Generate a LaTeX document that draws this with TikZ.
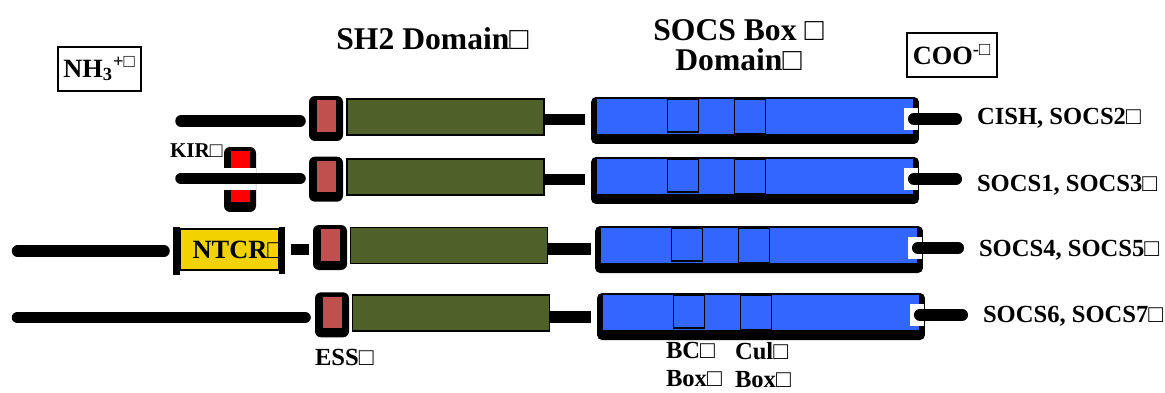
\documentclass[tikz,border=0pt]{standalone}
\usepackage{fontspec}
\setmainfont{Liberation Serif}
\usetikzlibrary{calc,positioning}

\definecolor{essred}{RGB}{192,80,77}
\definecolor{sh2green}{RGB}{79,97,40}
\definecolor{socsblue}{RGB}{51,102,255}
\definecolor{kirred}{RGB}{255,0,0}
\definecolor{ntcryellow}{RGB}{242,210,0}

\begin{document}
\begin{tikzpicture}[x=0.02cm, y=-0.02cm,
  every node/.style={inner sep=0pt, outer sep=0pt, font=\bfseries},
  domtitle/.style={font=\bfseries\fontsize{18}{17}\selectfont},
  lbl/.style={font=\bfseries\fontsize{14}{16}\selectfont, anchor=base west},
  endbox/.style={draw, line width=0.8pt, minimum height=0.88cm, font=\bfseries\fontsize{15}{17}\selectfont},
  essout/.style={fill=black, rounded corners=0.12cm, minimum width=0.68cm, minimum height=0.9cm},
  essin/.style={fill=essred, minimum width=0.38cm, minimum height=0.63cm},
  kirout/.style={fill=black, rounded corners=0.12cm, minimum width=0.64cm, minimum height=1.3cm},
  kirin/.style={fill=kirred, minimum width=0.38cm, minimum height=1.02cm},
  ntcrbox/.style={fill=ntcryellow, draw, line width=0.8pt, minimum width=1.98cm, minimum height=0.82cm},
  sh2box/.style={fill=sh2green, draw, line width=0.6pt, minimum width=3.94cm, minimum height=0.72cm},
  socsout/.style={fill=black, rounded corners=0.1cm, minimum width=6.56cm, minimum height=0.94cm},
  socsin/.style={fill=socsblue, minimum width=6.34cm, minimum height=0.7cm},
  bcbox/.style={draw, line width=0.6pt, anchor=north west, minimum width=0.62cm, minimum height=0.66cm},
  culbox/.style={draw, line width=0.6pt, anchor=north west, minimum width=0.62cm, minimum height=0.7cm},
  notch/.style={fill=white, minimum width=0.28cm, minimum height=0.44cm},
  linker/.style={line width=0.23cm},
  ctail/.style={line width=0.24cm, line cap=round, shorten <=0.06cm, shorten >=0.42cm},
  bracket/.style={line width=0.13cm}]

  \useasboundingbox (0,0) rectangle (1165,392);

  \node[endbox, minimum width=1.66cm] (nterm) at (99.5,69) {NH\textsubscript{3}\textsuperscript{+□}};
  \node[endbox, minimum width=1.8cm] (cterm) at (952,55) {COO\textsuperscript{-□}};
  \node[domtitle, anchor=base] (sh2title) at (432.5,49) {SH2 Domain□};
  \node[domtitle, anchor=north, align=center] (socstitle) at (738.5,20) {SOCS Box □\\Domain□};

  % CISH, SOCS2
  \node[essout] (ess1) at (326,118.5) {};
  \node[essin] (essin1) at ([yshift=0.05cm]ess1.center) {};
  \node[sh2box] (sh21) at (445.5,117) {};
  \node[socsout] (socs1) at (755,120.5) {};
  \node[socsin] (socsin1) at ([yshift=0.08cm]socs1.center) {};
  \node[bcbox] (bc1) at ([xshift=1.42cm]socsin1.north west) {};
  \node[culbox] (cul1) at ([xshift=2.76cm]socsin1.north west) {};
  \node[notch] (n1) at ([xshift=-0.16cm, yshift=0.03cm]socs1.east) {};
  \node[lbl] (fam1) at (977,124) {CISH, SOCS2□};
  \coordinate (nt1) at (181,121);
  \draw[linker, line cap=round, shorten >=0.18cm] (nt1) -- (nt1 -| ess1.west);
  \draw[linker, shorten >=0.12cm] ([yshift=-0.05cm]sh21.east) -- ([yshift=-0.05cm]sh21.east -| socs1.west);
  \draw[ctail] (n1.center) -- (n1.center -| fam1.west);

  % SOCS1, SOCS3
  \node[kirout] (kir) at (240,179.5) {};
  \node[kirin] (kirin) at ([yshift=0.06cm]kir.center) {};
  \node[font=\bfseries\fontsize{12}{14}\selectfont, anchor=base west] (kirlbl) at (170,157) {KIR□};
  \node[essout] (ess2) at (326,179.2) {};
  \node[essin] (essin2) at ([yshift=0.05cm]ess2.center) {};
  \node[sh2box] (sh22) at (445.5,177) {};
  \node[socsout] (socs2) at (755,180.5) {};
  \node[socsin] (socsin2) at ([yshift=0.08cm]socs2.center) {};
  \node[bcbox] (bc2) at ([xshift=1.42cm]socsin2.north west) {};
  \node[culbox] (cul2) at ([xshift=2.76cm]socsin2.north west) {};
  \node[notch] (n2) at ([xshift=-0.16cm, yshift=0.03cm]socs2.east) {};
  \node[lbl] (fam2) at (977,191) {SOCS1, SOCS3□};
  \coordinate (nt2) at (181,178.5);
  \draw[white, line width=0.44cm] (kir.west |- nt2) -- (kir.east |- nt2);
  \draw[linker, line cap=round, shorten >=0.18cm] (nt2) -- (nt2 -| ess2.west);
  \draw[linker, shorten >=0.12cm] ([yshift=-0.05cm]sh22.east) -- ([yshift=-0.05cm]sh22.east -| socs2.west);
  \draw[ctail] (n2.center) -- (n2.center -| fam2.west);

  % SOCS4, SOCS5
  \node[ntcrbox] (ntcr) at (229.5,249.5) {};
  \node[font=\bfseries\fontsize{15}{17}\selectfont, anchor=base] (ntcrlbl) at (238,258) {NTCR□};
  \draw[bracket] ([xshift=-0.07cm, yshift=0.04cm]ntcr.north west) -- ([xshift=-0.07cm, yshift=-0.1cm]ntcr.south west);
  \draw[bracket] ([xshift=0.06cm, yshift=0.04cm]ntcr.north east) -- ([xshift=0.06cm, yshift=-0.08cm]ntcr.south east);
  \node[essout] (ess3) at (330,247.5) {};
  \node[essin] (essin3) at ([yshift=0.05cm]ess3.center) {};
  \node[sh2box] (sh23) at (449,245.6) {};
  \node[socsout] (socs3) at (759,249.5) {};
  \node[socsin] (socsin3) at ([yshift=0.08cm]socs3.center) {};
  \node[bcbox] (bc3) at ([xshift=1.42cm]socsin3.north west) {};
  \node[culbox] (cul3) at ([xshift=2.76cm]socsin3.north west) {};
  \node[notch] (n3) at ([xshift=-0.16cm, yshift=0.03cm]socs3.east) {};
  \node[lbl] (fam3) at (979,256) {SOCS4, SOCS5□};
  \coordinate (nt3) at (17.5,251);
  \draw[linker, line cap=round, shorten >=0.32cm] (nt3) -- (nt3 -| ntcr.west);
  \draw[linker, shorten <=0.24cm, shorten >=0.08cm] (ntcr.east) -- (ntcr.east -| ess3.west);
  \draw[linker, shorten >=0.08cm] ([yshift=-0.07cm]sh23.east) -- ([yshift=-0.07cm]sh23.east -| socs3.west);
  \draw[ctail] (n3.center) -- (n3.center -| fam3.west);

  % SOCS6, SOCS7
  \node[essout] (ess4) at (332,314.8) {};
  \node[essin] (essin4) at ([yshift=0.05cm]ess4.center) {};
  \node[sh2box] (sh24) at (450.7,313) {};
  \node[socsout] (socs4) at (761,316.5) {};
  \node[socsin] (socsin4) at ([yshift=0.08cm]socs4.center) {};
  \node[bcbox] (bc4) at ([xshift=1.42cm]socsin4.north west) {};
  \node[culbox] (cul4) at ([xshift=2.76cm]socsin4.north west) {};
  \node[notch] (n4) at ([xshift=-0.16cm, yshift=0.03cm]socs4.east) {};
  \node[lbl] (fam4) at (983,322) {SOCS6, SOCS7□};
  \coordinate (nt4) at (17.5,317.5);
  \draw[linker, line cap=round, shorten >=0.2cm] (nt4) -- (nt4 -| ess4.west);
  \draw[linker, shorten >=0.12cm] ([yshift=-0.08cm]sh24.east) -- ([yshift=-0.08cm]sh24.east -| socs4.west);
  \draw[ctail] (n4.center) -- (n4.center -| fam4.west);

  \node[lbl] (esslbl) at (315,365) {ESS□};
  \node[lbl, anchor=north west, align=left] (bclbl) at (666,342) {BC□\\Box□};
  \node[lbl, anchor=north west, align=left] (cullbl) at (735,342) {Cul□\\Box□};
\end{tikzpicture}
\end{document}
